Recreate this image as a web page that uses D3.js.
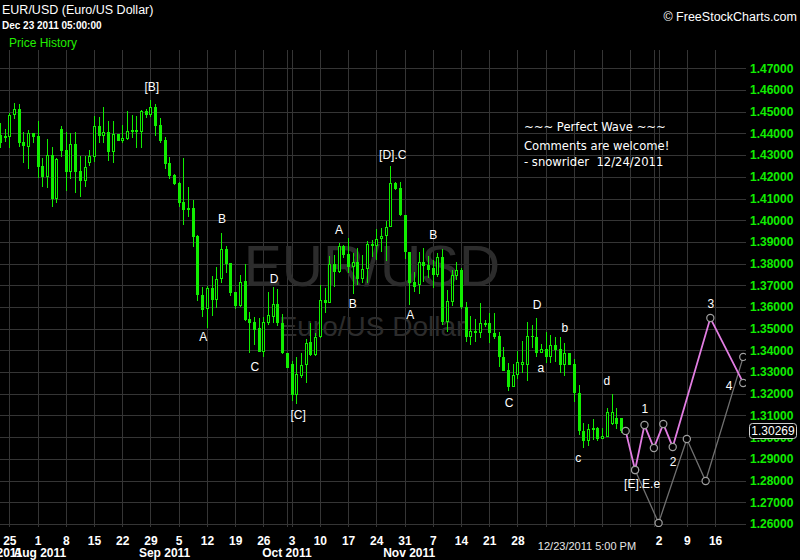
<!DOCTYPE html>
<html><head><meta charset="utf-8">
<script src="https://cdn.jsdelivr.net/npm/d3@7"></script>
<style>
html,body{margin:0;padding:0;background:#000;}
svg{display:block;}
text{font-family:"Liberation Sans",Arial,sans-serif;}
</style></head><body>
<svg id="chart" width="800" height="560"></svg>
<script>
// ---- DATA ----
const firstBar = -2; // bar index of first candle (Fri Jul 22 2011); Mon Jul 25 = 0, 6 bars per week
const opens = [1.4393,1.4388,1.4382,1.4483,1.4511,1.4360,1.4339,1.4400,1.4388,1.4250,1.4201,1.4300,
1.4096,1.4419,1.4323,1.4224,1.4351,1.4228,1.4182,1.4265,1.4293,1.4434,1.4389,1.4405,
1.4316,1.4397,1.4365,1.4374,1.4416,1.4416,1.4408,1.4503,1.4486,1.4520,1.4439,1.4370,
1.4262,1.4208,1.4173,1.4084,1.4058,1.4058,1.3927,1.3655,1.3590,1.3686,1.3632,1.3728,
1.3866,1.3802,1.3671,1.3605,1.3720,1.3545,1.3533,1.3502,1.3394,1.3528,1.3556,1.3614,
1.3525,1.3387,1.3336,1.3195,1.3282,1.3333,1.3440,1.3379,1.3461,1.3632,1.3617,1.3798,
1.3763,1.3881,1.3845,1.3786,1.3809,1.3728,1.3774,1.3891,1.3883,1.3912,1.3928,1.3970,
1.4170,1.4147,1.4024,1.3855,1.3717,1.3702,1.3809,1.3794,1.3779,1.3748,1.3832,1.3533,
1.3625,1.3745,1.3771,1.3602,1.3461,1.3491,1.3479,1.3528,1.3528,1.3482,1.3467,1.3369,
1.3310,1.3233,1.3287,1.3333,1.3333,1.3467,1.3464,1.3390,1.3407,1.3371,1.3425,1.3405,
1.3333,1.3390,1.3338,1.3202,1.3030,1.2984,1.3044,1.3044,1.2993,1.3003,1.3061,1.3087,1.3087];
const highs = [1.4446,1.4419,1.4492,1.4538,1.4535,1.4408,1.4416,1.4400,1.4457,1.4285,1.4373,1.4339,
1.4285,1.4434,1.4408,1.4403,1.4408,1.4296,1.4296,1.4323,1.4480,1.4474,1.4520,1.4457,
1.4457,1.4397,1.4439,1.4503,1.4485,1.4480,1.4508,1.4511,1.4554,1.4535,1.4472,1.4385,
1.4293,1.4211,1.4177,1.4285,1.4155,1.4093,1.3932,1.3694,1.3697,1.3743,1.3783,1.3941,
1.3881,1.3802,1.3671,1.3748,1.3798,1.3579,1.3553,1.3548,1.3553,1.3671,1.3694,1.3682,
1.3568,1.3390,1.3351,1.3368,1.3390,1.3453,1.3525,1.3479,1.3702,1.3686,1.3835,1.3840,
1.3895,1.3886,1.3918,1.3848,1.3871,1.3840,1.3905,1.3909,1.3960,1.3963,1.3997,1.4250,
1.4175,1.4175,1.4024,1.3855,1.3763,1.3855,1.3871,1.3835,1.3817,1.3848,1.3866,1.3678,
1.3771,1.3809,1.3779,1.3625,1.3559,1.3544,1.3617,1.3540,1.3571,1.3571,1.3486,1.3417,
1.3344,1.3338,1.3399,1.3444,1.3533,1.3517,1.3548,1.3428,1.3486,1.3471,1.3461,1.3461,
1.3433,1.3390,1.3361,1.3241,1.3067,1.3061,1.3083,1.3049,1.3044,1.3133,1.3198,1.3136,1.3087];
const lows = [1.4331,1.4362,1.4331,1.4465,1.4339,1.4262,1.4234,1.4354,1.4193,1.4155,1.4150,1.4062,
1.4078,1.4293,1.4136,1.4188,1.4127,1.4108,1.4155,1.4250,1.4270,1.4357,1.4357,1.4274,
1.4265,1.4365,1.4354,1.4370,1.4380,1.4334,1.4334,1.4472,1.4477,1.4389,1.4354,1.4234,
1.4188,1.4162,1.4062,1.3978,1.4016,1.3878,1.3628,1.3556,1.3505,1.3559,1.3597,1.3712,
1.3756,1.3651,1.3591,1.3602,1.3536,1.3390,1.3425,1.3394,1.3368,1.3517,1.3525,1.3513,
1.3384,1.3318,1.3169,1.3152,1.3272,1.3249,1.3374,1.3374,1.3456,1.3571,1.3617,1.3694,
1.3756,1.3825,1.3756,1.3659,1.3702,1.3710,1.3710,1.3832,1.3817,1.3855,1.3811,1.3968,
1.4140,1.4020,1.3820,1.3610,1.3671,1.3660,1.3717,1.3734,1.3686,1.3740,1.3517,1.3486,
1.3605,1.3725,1.3591,1.3441,1.3425,1.3440,1.3456,1.3509,1.3436,1.3451,1.3322,1.3307,
1.3215,1.3233,1.3267,1.3297,1.3261,1.3410,1.3368,1.3387,1.3343,1.3343,1.3348,1.3295,
1.3284,1.3333,1.3160,1.3010,1.2949,1.2961,1.2987,1.2984,1.2993,1.3003,1.3056,1.3036,1.3018];
const closes = [1.4354,1.4380,1.4485,1.4511,1.4357,1.4343,1.4400,1.4385,1.4247,1.4201,1.4299,1.4096,
1.4280,1.4319,1.4224,1.4351,1.4224,1.4182,1.4244,1.4296,1.4434,1.4389,1.4405,1.4316,
1.4397,1.4365,1.4380,1.4411,1.4406,1.4406,1.4503,1.4485,1.4520,1.4436,1.4365,1.4261,
1.4205,1.4167,1.4081,1.4047,1.4047,1.3924,1.3655,1.3586,1.3686,1.3632,1.3728,1.3866,
1.3798,1.3666,1.3605,1.3717,1.3540,1.3528,1.3494,1.3394,1.3533,1.3563,1.3614,1.3525,
1.3387,1.3321,1.3195,1.3292,1.3333,1.3436,1.3379,1.3463,1.3632,1.3617,1.3798,1.3763,
1.3881,1.3840,1.3786,1.3809,1.3728,1.3774,1.3891,1.3881,1.3912,1.3928,1.3970,1.4170,
1.4144,1.4024,1.3855,1.3709,1.3694,1.3809,1.3791,1.3771,1.3748,1.3832,1.3533,1.3629,
1.3748,1.3771,1.3599,1.3461,1.3491,1.3479,1.3525,1.3517,1.3479,1.3461,1.3369,1.3307,
1.3233,1.3287,1.3348,1.3348,1.3467,1.3461,1.3390,1.3407,1.3371,1.3425,1.3402,1.3333,
1.3390,1.3333,1.3202,1.3030,1.2984,1.3038,1.3033,1.2993,1.3006,1.3115,1.3115,1.3061,1.3027];

const lastPrice = 1.30269;
const priceTicks = [1.26,1.27,1.28,1.29,1.30,1.31,1.32,1.33,1.34,1.35,1.36,1.37,1.38,1.39,1.40,1.41,1.42,1.43,1.44,1.45,1.46,1.47];

const weekIdx = [0,6,12,18,24,30,36,42,48,54,60,66,72,78,84,90,96,102,108,114,120,126,132,138,144,150];
const weekLabels = ["25","1","8","15","22","29","5","12","19","26","3","10","17","24","31","7","14","21","28","","","","","2","9","16"];
const quarterIdx = [59,137];
const monthLabels = ["Jul 2011","Aug 2011","Sep 2011","Oct 2011","Nov 2011"];
const monthIdx = [-2.5,6.5,33,59,85];

// Elliott wave projections
const projIdx = [131,133,135,137,139,141,149,156];
const projPrice = [1.3029,1.2849,1.3056,1.2950,1.3061,1.2955,1.3549,1.3250];
const altIdx = [133,138,144,148,156];
const altPrice = [1.2849,1.2605,1.2992,1.2798,1.3370];

const waveText = ["[B]","B","A","D","C","[C]","A","B","[D].C","A","B","D","C","a","b","c","d","1","2","[E].E.e","3","4"];
const waveIdx = [30.3,45.2,41.2,56.3,52.2,61.4,70.1,73.0,81.5,85.2,90.1,112.2,106.2,113.0,118.1,120.9,127.0,135.1,141.1,134.5,149.1,153.0];
const wavePrice = [1.4614,1.4006,1.3462,1.3729,1.3324,1.3103,1.3955,1.3614,1.4301,1.3563,1.3932,1.3609,1.3158,1.3319,1.3504,1.2904,1.3259,1.3130,1.2886,1.2785,1.3614,1.3236];

const noteLines = ["~~~ Perfect Wave ~~~","Comments are welcome!","- snowrider  12/24/2011"];

// ---- DRAW ----
const svg = d3.select("#chart");
const W = 800, H = 560;
const plotL = 0, plotR = 746, plotT = 50, plotB = 527;
const green = "#11ee00", grid = "#353535";

svg.append("rect").attr("width",W).attr("height",H).attr("fill","#000");

const x = d3.scaleLinear().domain([0,150]).range([9.3, 715.05]);
const y = d3.scaleLinear().domain([1.26,1.47]).range([524, 68.3]);

svg.append("defs").append("clipPath").attr("id","plotclip")
  .append("rect").attr("x",plotL).attr("y",plotT).attr("width",plotR-plotL).attr("height",plotB-plotT);

const gGrid = svg.append("g").attr("shape-rendering","crispEdges");
gGrid.selectAll("line.h").data(priceTicks).join("line")
  .attr("x1",plotL).attr("x2",plotR)
  .attr("y1",d=>Math.round(y(d))+0.5).attr("y2",d=>Math.round(y(d))+0.5)
  .attr("stroke",grid);
gGrid.selectAll("line.v").data(weekIdx.concat(quarterIdx)).join("line")
  .attr("x1",d=>Math.round(x(d))+0.5).attr("x2",d=>Math.round(x(d))+0.5)
  .attr("y1",plotT).attr("y2",plotB)
  .attr("stroke",grid);

// watermark
svg.append("text").attr("x",372).attr("y",286).attr("text-anchor","middle")
  .attr("font-size",57).attr("fill","#2c2c2c").text("EUR/USD");
svg.append("text").attr("x",372).attr("y",336).attr("text-anchor","middle")
  .attr("font-size",28).attr("fill","#2c2c2c").text("Euro/US Dollar");

const plot = svg.append("g").attr("clip-path","url(#plotclip)");

const bars = opens.map((o,k)=>({i:firstBar+k,o,h:highs[k],l:lows[k],c:closes[k]}));
const gC = plot.append("g").attr("shape-rendering","crispEdges");
bars.forEach(b=>{
  const cx = Math.round(x(b.i));
  gC.append("line").attr("x1",cx+0.5).attr("x2",cx+0.5)
    .attr("y1",y(b.h)).attr("y2",y(b.l)).attr("stroke",green).attr("stroke-width",1);
  const top = Math.round(y(Math.max(b.o,b.c))), bot = Math.round(y(Math.min(b.o,b.c)));
  if (b.c >= b.o) {
    gC.append("rect").attr("x",cx-0.5).attr("y",top+0.5).attr("width",2)
      .attr("height",Math.max(1,bot-top-1)).attr("fill","#000").attr("stroke",green);
  } else {
    gC.append("rect").attr("x",cx-1).attr("y",top).attr("width",3)
      .attr("height",Math.max(1,bot-top)).attr("fill",green);
  }
});

// projections
const line = d3.line().x(d=>x(d[0])).y(d=>y(d[1]));
const alt = altIdx.map((d,k)=>[d,altPrice[k]]);
const proj = projIdx.map((d,k)=>[d,projPrice[k]]);
plot.append("path").attr("d",line(alt)).attr("fill","none").attr("stroke","#707070").attr("stroke-width",1.3);
plot.append("path").attr("d",line(proj)).attr("fill","none").attr("stroke","#e27de2").attr("stroke-width",1.8);
plot.selectAll("circle.m").data(alt.concat(proj)).join("circle")
  .attr("cx",d=>x(d[0])).attr("cy",d=>y(d[1])).attr("r",3.6)
  .attr("fill","#000").attr("stroke","#a0a0a0").attr("stroke-width",1.2);

// wave labels
svg.append("g").selectAll("text").data(waveText).join("text")
  .attr("x",(d,k)=>x(waveIdx[k])).attr("y",(d,k)=>y(wavePrice[k]))
  .attr("dy","0.36em").attr("text-anchor","middle")
  .attr("font-size",12).attr("fill","#fff").text(d=>d);

// note
svg.append("g").selectAll("text").data(noteLines).join("text")
  .attr("x",524).attr("y",(d,k)=>[131,150,166][k])
  .style("font-family","'DejaVu Sans',Verdana,sans-serif")
  .attr("font-size",11.6).attr("fill","#fff").style("white-space","pre").text(d=>d);

// y axis
const yAxis = d3.axisRight(y).tickValues(priceTicks).tickFormat(d3.format(".5f")).tickSize(0).tickPadding(0);
const gy = svg.append("g").attr("transform","translate(750,0)").call(yAxis);
gy.select(".domain").remove();
gy.selectAll("text").style("font-family","'Liberation Sans',Arial,sans-serif")
  .attr("font-size",12).attr("font-weight","bold").attr("fill",green).attr("x",0);

// current price box
const py = Math.round(y(lastPrice));
svg.append("rect").attr("x",749.5).attr("y",py-7.5).attr("width",47).attr("height",15).attr("rx",3)
  .attr("fill","#000").attr("stroke","#d0d0d0");
svg.append("text").attr("x",773).attr("y",py).attr("dy","0.36em").attr("text-anchor","middle")
  .attr("font-size",12).attr("fill","#fff").text(d3.format(".5f")(lastPrice));

// x axis
const xAxis = d3.axisBottom(x).tickValues(weekIdx).tickFormat((d,k)=>weekLabels[k]).tickSize(0).tickPadding(0);
const gx = svg.append("g").attr("transform","translate(0,536)").call(xAxis);
gx.select(".domain").remove();
gx.selectAll("text").style("font-family","'Liberation Sans',Arial,sans-serif")
  .attr("font-size",12).attr("font-weight","bold").attr("fill","#fff").attr("dy","0.71em").attr("y",0);
svg.append("g").selectAll("text").data(monthLabels).join("text")
  .attr("x",(d,k)=>x(monthIdx[k])).attr("y",557).attr("text-anchor",(d,k)=>k===0?"end":"middle")
  .attr("dx",(d,k)=>k===0?25:0)
  .attr("font-size",12).attr("font-weight","bold").attr("fill","#fff").text(d=>d);
svg.append("text").attr("x",587).attr("y",550).attr("text-anchor","middle")
  .attr("font-size",11).attr("fill","#e6e6e6").text("12/23/2011 5:00 PM");

// header
svg.append("text").attr("x",2).attr("y",14).attr("font-size",12.5).attr("fill","#fff").text("EUR/USD (Euro/US Dollar)");
svg.append("text").attr("x",2).attr("y",29).attr("font-size",10).attr("font-weight","bold").attr("fill","#fff").text("Dec 23 2011 05:00:00");
svg.append("text").attr("x",9).attr("y",47).attr("font-size",12).attr("fill","#22ee00").text("Price History");
svg.append("text").attr("x",797).attr("y",21).attr("text-anchor","end").attr("font-size",12.5).attr("fill","#fff").text("© FreeStockCharts.com");
</script>
</body></html>
